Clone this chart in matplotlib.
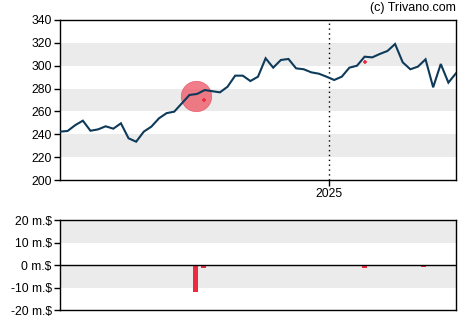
import matplotlib
matplotlib.use('Agg')
import matplotlib.pyplot as plt
import matplotlib.dates as mdates
import numpy as np
import pandas as pd

plt.rcParams['font.family'] = ['Liberation Sans', 'DejaVu Sans']

# weekly closing prices
price_start = '2024-04-29'
prices = [242.3, 242.9, 248.0, 251.9, 243.1, 244.3, 247.0, 244.9, 249.6, 236.5,
          233.5, 242.3, 246.7, 254.0, 258.5, 259.8, 267.1, 274.4, 275.3,
          278.7, 277.7, 276.7, 281.6, 291.3, 291.3, 286.6, 290.4, 306.5, 298.3,
          305.0, 305.9, 297.7, 296.9, 294.2, 293.0, 290.4, 287.5, 290.4, 298.3,
          300.0, 307.9, 307.3, 310.3, 312.9, 319.0, 303.0, 296.9, 299.2, 305.6,
          281.1, 301.5, 285.2, 293.4]

# insider transactions (million $)
trade_dates = ['2024-09-01', '2024-09-08', '2025-02-03', '2025-03-29']
trade_values = [-11.8, -1.1, -1.2, -0.7]

# markers on the price chart
big_date, big_price = '2024-09-01', 273.8
small_dates = ['2024-09-08', '2025-02-03']
small_prices = [270.0, 303.0]

dates = pd.date_range(price_start, periods=len(prices), freq='7D')

fig = plt.figure(figsize=(4.7, 3.25), dpi=100)
ax = fig.add_axes([60 / 470, 1 - 180 / 325, 396 / 470, 160 / 325])
ax2 = fig.add_axes([60 / 470, 1 - 310.3 / 325, 396 / 470, 90.3 / 325])

band = '#ebebeb'
for lo in [220, 260, 300]:
    ax.axhspan(lo, lo + 20, color=band, lw=0, zorder=0)
for lo in [-10, 10]:
    ax2.axhspan(lo, lo + 10, color=band, lw=0, zorder=0)

ax.plot(dates, prices, color='#0e3a5a', lw=1.5, zorder=3, solid_joinstyle='miter')
ax.scatter([pd.Timestamp(big_date)], [big_price], s=480, color='#ee4d5e', alpha=0.72,
           edgecolors='#e0404f', linewidths=0.5, zorder=2)
ax.scatter(pd.to_datetime(small_dates), small_prices, marker='+', s=12,
           color='#ee2a40', linewidths=1.2, zorder=4)

y2025 = pd.Timestamp('2025-01-01')
ax.axvline(y2025, color='black', ls=(0, (1, 2.5)), lw=1, zorder=1)

ax.set_xlim(dates[0], dates[-1])
ax.set_ylim(200, 340)
ax.set_yticks(np.arange(200, 341, 20))
ax.set_xticks([y2025])
ax.xaxis.set_major_formatter(mdates.DateFormatter('%Y'))

ax2.bar(pd.to_datetime(trade_dates), trade_values, width=4.6, color='#ee2a40', zorder=2)
ax2.axhline(0, color='black', lw=1, zorder=3)
ax2.set_xlim(dates[0], dates[-1])
ax2.set_ylim(-20, 20)
ax2.set_yticks([-20, -10, 0, 10, 20])
ax2.set_yticklabels(['-20 m.$', '-10 m.$', '0 m.$', '10 m.$', '20 m.$'])
ax2.set_xticks([])

for a in (ax, ax2):
    for s in a.spines.values():
        s.set_linewidth(1.0)
    a.tick_params(length=4, width=1, labelsize=8.7, pad=2, colors='black')

fig.text(456 / 470, 1 - 8 / 325, '(c) Trivano.com', ha='right', va='center', fontsize=9)

fig.savefig('out.png', dpi=100)
